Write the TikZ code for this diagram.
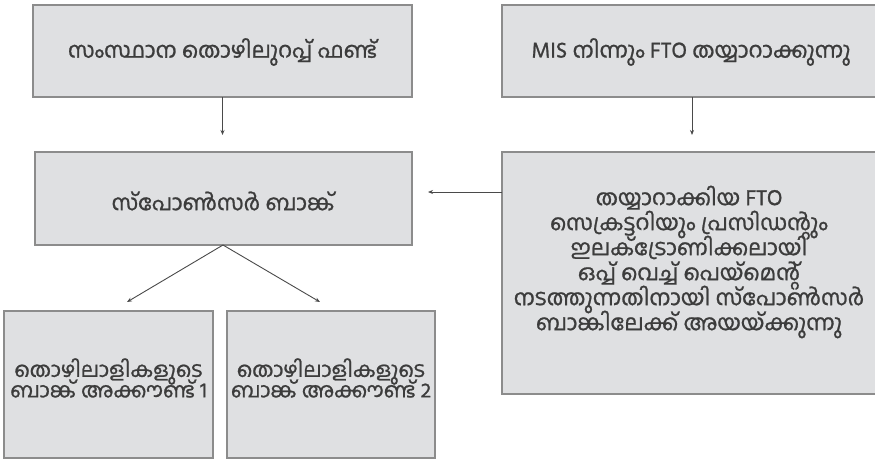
\documentclass[tikz,border=0pt]{standalone}
\usepackage{fontspec}
\newfontfamily\mlfont[Script=Malayalam,FakeBold=1]{Hind Kochi}
\newcommand\mlset[2]{\mlfont\fontsize{#1}{#2}\selectfont\lineskiplimit=-30pt\relax\lineskip=0pt\relax}
\usetikzlibrary{arrows.meta}
\definecolor{boxfill}{HTML}{DFE0E2}
\definecolor{boxline}{HTML}{8C8C8C}
\definecolor{txt}{HTML}{3C3C3C}
\definecolor{arrc}{HTML}{4A4A4A}
\tikzset{
  box/.style={draw=boxline, line width=1.3pt, fill=boxfill},
  lbl/.style={text=txt, align=center, font=\mlset{22}{24}, inner sep=0pt},
  arr/.style={draw=arrc, line width=0.9pt, -{Stealth[length=5pt,width=4pt]}}
}
\begin{document}
\begin{tikzpicture}[x=1pt,y=-1pt]
\useasboundingbox (0,0) rectangle (875,460);
\fill[white] (0,0) rectangle (875,460);
% boxes
\draw[box] (33,5) rectangle (412,97);
\node[lbl] (fund) at (222.5,52) {സംസ്ഥാന തൊഴിലുറപ്പ് ഫണ്ട്};
\draw[box] (502,5) rectangle (885,97);
\node[lbl] (mis) at (691,52) {MIS നിന്നും FTO തയ്യാറാക്കുന്നു};
\draw[box] (35,152) rectangle (412,245);
\node[lbl] (sponsor) at (223,201) {സ്പോൺസർ ബാങ്ക്};
\draw[box] (502,152) rectangle (885,394);
\node[lbl, font=\mlset{22}{25}] (fto) at (689,262) {തയ്യാറാക്കിയ FTO\\സെക്രട്ടറിയും പ്രസിഡന്റും\\ഇലക്ട്രോണിക്കലായി\\ഒപ്പ് വെച്ച് പെയ്മെന്റ്\\നടത്തുന്നതിനായി സ്പോൺസർ\\ബാങ്കിലേക്ക് അയയ്ക്കുന്നു};
\draw[box] (4,311) rectangle (213,458);
\node[lbl, font=\mlset{21}{20.5}] (acc1) at (108.5,378) {തൊഴിലാളികളുടെ\\ബാങ്ക് അക്കൗണ്ട് 1};
\draw[box] (227,311) rectangle (435,458);
\node[lbl, font=\mlset{21}{20.5}] (acc2) at (331,378) {തൊഴിലാളികളുടെ\\ബാങ്ക് അക്കൗണ്ട് 2};
% anchor coordinates
\coordinate (fundS) at (222.5,97);
\coordinate (fundT) at (222.5,135);
\coordinate (misS) at (692,97);
\coordinate (misT) at (692,135);
\coordinate (ftoW) at (502,192);
\coordinate (ftoT) at (428,192);
\coordinate (spS) at (223,245);
\coordinate (t1) at (127,302);
\coordinate (t2) at (320,302);
% connectors
\draw[arr] (fundS) -- (fundT);
\draw[arr] (misS) -- (misT);
\draw[arr] (ftoW) -- (ftoT);
\draw[arr] (spS) -- (t1);
\draw[arr] (spS) -- (t2);
\end{tikzpicture}
\end{document}
